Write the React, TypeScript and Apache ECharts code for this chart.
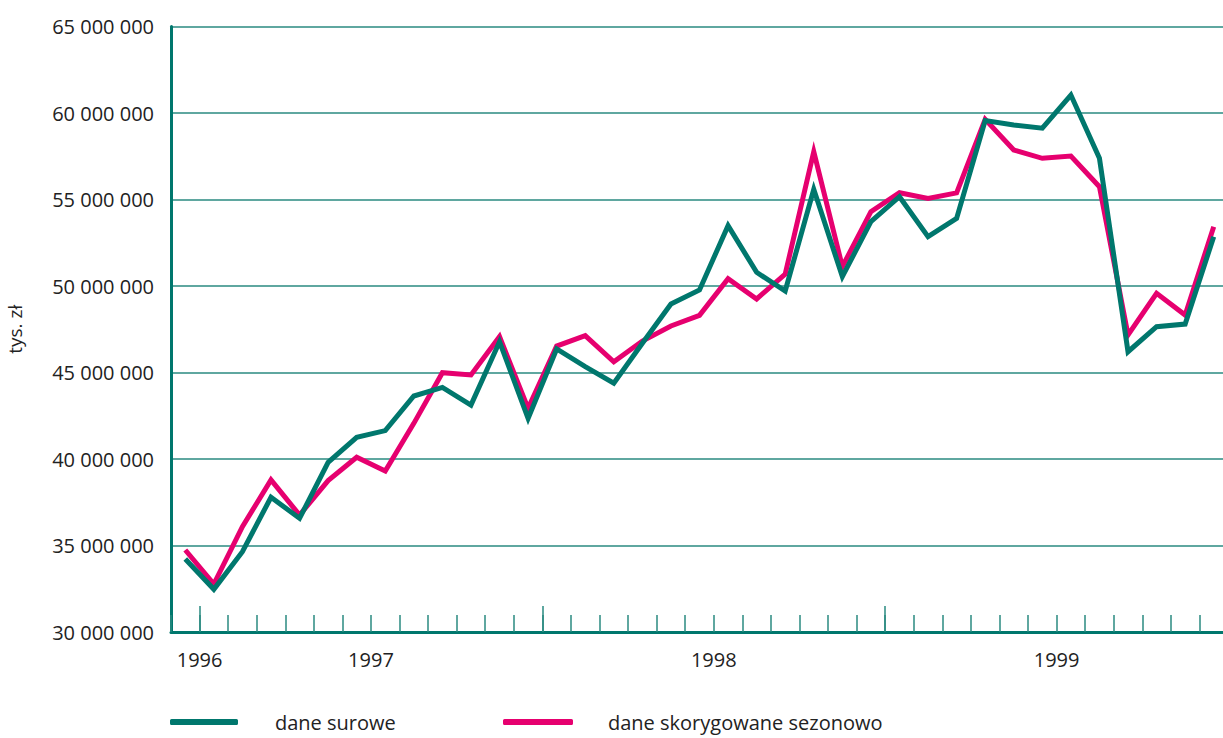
import React, { useEffect, useRef } from "react";
import * as echarts from "echarts";

const months = [
  "1996-01", "1996-02", "1996-03", "1996-04", "1996-05", "1996-06", "1996-07", "1996-08", "1996-09", "1996-10", "1996-11", "1996-12",
  "1997-01", "1997-02", "1997-03", "1997-04", "1997-05", "1997-06", "1997-07", "1997-08", "1997-09", "1997-10", "1997-11", "1997-12",
  "1998-01", "1998-02", "1998-03", "1998-04", "1998-05", "1998-06", "1998-07", "1998-08", "1998-09", "1998-10", "1998-11", "1998-12",
  "1999-01",
];

const rawData = [
  34220000, 32470000, 34640000, 37790000, 36570000, 39810000, 41250000, 41640000, 43640000, 44140000,
  43120000, 46780000, 42350000, 46360000, 45340000, 44380000, 46690000, 48960000, 49770000, 53490000,
  50790000, 49710000, 55590000, 50540000, 53720000, 55160000, 52850000, 53910000, 59560000, 59310000,
  59120000, 61040000, 57380000, 46200000, 47650000, 47800000, 52850000,
];

const adjustedData = [
  34740000, 32770000, 36090000, 38790000, 36760000, 38750000, 40100000, 39310000, 42060000, 44990000,
  44860000, 47070000, 42930000, 46530000, 47130000, 45620000, 46820000, 47690000, 48300000, 50420000,
  49250000, 50690000, 57760000, 51120000, 54300000, 55390000, 55060000, 55380000, 59630000, 57860000,
  57380000, 57510000, 55740000, 47170000, 49580000, 48320000, 53430000,
];

const yearLabels = ["1996", "1997", "1998", "1999"];
const yearLabelAt = [1, 7, 19, 31];
const yearTickAt = [1, 13, 25];

const seriesNames = ["dane surowe", "dane skorygowane sezonowo"];

const TEAL = "#00776d";
const PINK = "#e6006f";
const GRID = "#2a8a80";
const FONT = "Open Sans";

function fmt(v: number) {
  return String(v).replace(/\B(?=(\d{3})+(?!\d))/g, " ");
}

export default function App() {
  const ref = useRef<HTMLDivElement>(null);
  useEffect(() => {
    if (!ref.current) return;
    const chart = echarts.init(ref.current, undefined, { renderer: "svg" });
    chart.setOption({
      animation: false,
      textStyle: { fontFamily: FONT },
      grid: {
        left: 171,
        top: 26.5,
        width: 1057,
        height: 605.5,
        containLabel: false,
        outerBoundsMode: "none",
      },
      legend: [
        {
          left: 170,
          top: 712,
          padding: 0,
          data: [seriesNames[0]],
          icon: "roundRect",
          itemWidth: 68,
          itemHeight: 6,
          textStyle: { fontFamily: FONT, fontSize: 20, color: "#222", padding: [0, 0, 0, 32] },
        },
        {
          left: 503,
          top: 712,
          padding: 0,
          data: [seriesNames[1]],
          icon: "roundRect",
          itemWidth: 70,
          itemHeight: 6,
          textStyle: { fontFamily: FONT, fontSize: 20, color: "#222", padding: [0, 0, 0, 30] },
        },
      ],
      xAxis: [
        {
          type: "category",
          data: months,
          boundaryGap: true,
          position: "bottom",
          axisLine: { show: true, lineStyle: { color: TEAL, width: 3 } },
          axisTick: { show: true, inside: true, interval: 0, length: 17, lineStyle: { color: GRID, width: 1.5 } },
          axisLabel: { show: false },
          splitLine: { show: false },
        },
        {
          type: "value",
          min: 0,
          max: 37,
          position: "bottom",
          axisLine: { show: false },
          axisTick: {
            show: true,
            inside: true,
            length: 26,
            customValues: yearTickAt,
            lineStyle: { color: GRID, width: 1.5 },
          },
          axisLabel: {
            show: true,
            customValues: yearLabelAt,
            margin: 17,
            fontFamily: FONT,
            fontSize: 20,
            color: "#222",
            formatter: (v: number) => {
              const i = yearLabelAt.indexOf(Math.round(v));
              return i >= 0 ? yearLabels[i] : "";
            },
          },
          splitLine: { show: false },
        },
      ],
      yAxis: {
        type: "value",
        min: 30000000,
        max: 65000000,
        interval: 5000000,
        name: "tys. zł",
        nameLocation: "middle",
        nameGap: 146,
        nameRotate: 90,
        nameTextStyle: { fontFamily: FONT, fontSize: 19, color: "#222", lineHeight: 20 },
        axisLine: { show: true, lineStyle: { color: TEAL, width: 3 } },
        axisTick: { show: false },
        axisLabel: { margin: 17, fontFamily: FONT, fontSize: 20, color: "#222", formatter: fmt },
        splitLine: { show: true, lineStyle: { color: GRID, width: 1.5 } },
      },
      series: [
        {
          name: seriesNames[1],
          type: "line",
          xAxisIndex: 0,
          data: adjustedData,
          symbol: "none",
          itemStyle: { color: PINK },
          lineStyle: { color: PINK, width: 5, join: "miter", miterLimit: 6 },
          z: 2,
        },
        {
          name: seriesNames[0],
          type: "line",
          xAxisIndex: 0,
          data: rawData,
          symbol: "none",
          itemStyle: { color: TEAL },
          lineStyle: { color: TEAL, width: 5, join: "miter", miterLimit: 6 },
          z: 3,
        },
      ],
    });
    return () => chart.dispose();
  }, []);
  return (
    <div
      ref={ref}
      style={{ position: "fixed", left: 0, top: 0, width: 1223, height: 738, background: "#fff" }}
    />
  );
}
